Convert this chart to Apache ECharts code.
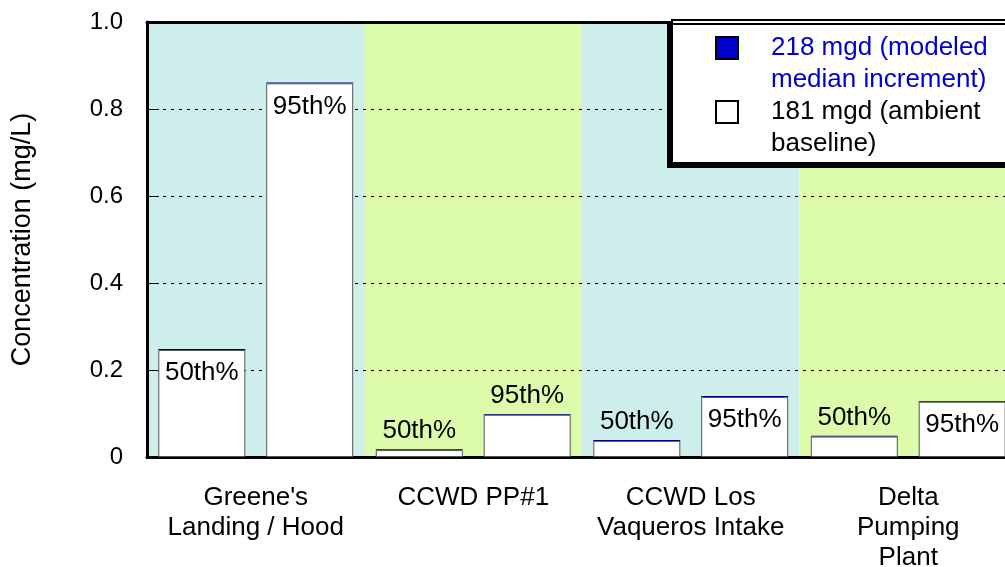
<!DOCTYPE html>
<html>
<head>
<meta charset="utf-8">
<script src="https://cdn.jsdelivr.net/npm/echarts@6/dist/echarts.min.js"></script>
<style>html,body{margin:0;padding:0;background:#fff;}#c{width:1005px;height:567px;}</style>
</head>
<body>
<div id="c"></div>
<script>
var categories = ["Greene's\nLanding / Hood", "CCWD PP#1", "CCWD Los\nVaqueros Intake", "Delta\nPumping\nPlant"];
var baseline50 = [0.246, 0.016, 0.037, 0.047];
var baseline95 = [0.859, 0.097, 0.138, 0.127];
var increment50 = [0.002, 0.002, 0.002, 0.002];
var increment95 = [0.002, 0.002, 0.002, 0.002];
var pctLabels = ["50th%", "95th%"];
var yTickLabels = ["0", "0.2", "0.4", "0.6", "0.8", "1.0"];
var legendNames = ["218 mgd (modeled\nmedian increment)", "181 mgd (ambient\nbaseline)"];

var FONT = '"Liberation Sans", Arial, sans-serif';
var chart = echarts.init(document.getElementById('c'), null, {renderer: 'canvas'});

function baseSeries(vals, label, stack) {
  return {
    type: 'bar', stack: stack, barWidth: 87, barGap: '24%',
    name: legendNames[1],
    itemStyle: {color: '#ffffff', borderColor: '#555', borderWidth: 1},
    data: vals.map(function (v) {
      var inside = v >= 0.12;
      return {value: v, label: {show: true, position: inside ? 'insideTop' : 'top',
        distance: inside ? 10 : 6, formatter: label, color: '#000', fontSize: 26, fontFamily: FONT}};
    }),
    z: 3
  };
}
function incSeries(vals, stack) {
  return {
    type: 'bar', stack: stack, barWidth: 87, barGap: '24%',
    name: legendNames[0],
    itemStyle: {color: '#00007a'},
    data: vals, z: 3
  };
}

var option = {
  animation: false,
  grid: {left: 147, top: 22, width: 870, height: 435, containLabel: false, outerBoundsMode: 'none'},
  xAxis: [{
    type: 'category', data: categories, position: 'bottom', z: 0,
    axisLine: {show: true, lineStyle: {color: '#000', width: 3}},
    axisTick: {show: false},
    axisLabel: {color: '#000', fontSize: 26, fontFamily: FONT, lineHeight: 30, margin: 26, interval: 0},
    splitLine: {show: false},
    splitArea: {show: true, interval: 0, areaStyle: {color: ['#cdeeea', '#dcfcab']}}
  }, {
    type: 'category', data: categories, position: 'top', z: 2,
    axisLine: {show: true, lineStyle: {color: '#000', width: 3}},
    axisTick: {show: false}, axisLabel: {show: false}, splitLine: {show: false}
  }],
  yAxis: {
    type: 'value', min: 0, max: 1, interval: 0.2, z: 1,
    name: 'Concentration (mg/L)', nameLocation: 'middle', nameGap: 111,
    nameTextStyle: {color: '#000', fontSize: 27, fontFamily: FONT},
    axisLine: {show: true, lineStyle: {color: '#000', width: 3}},
    axisTick: {show: true, inside: true, length: 12, lineStyle: {color: '#000', width: 1}},
    axisLabel: {color: '#000', fontSize: 24, fontFamily: FONT, margin: 24,
      formatter: function (v) { return yTickLabels[Math.round(v / 0.2)]; }},
    splitLine: {show: true, lineStyle: {color: '#000', width: 1, type: [3, 5]}}
  },
  series: [
    baseSeries(baseline50, pctLabels[0], 'p50'),
    incSeries(increment50, 'p50'),
    baseSeries(baseline95, pctLabels[1], 'p95'),
    incSeries(increment95, 'p95')
  ],
  graphic: [
    {type: 'rect', z: 100, shape: {x: 672, y: 20, width: 345, height: 143},
      style: {fill: '#fff', stroke: '#000', lineWidth: 2, shadowColor: '#000', shadowOffsetX: -4, shadowOffsetY: 4, shadowBlur: 0}},
    {type: 'rect', z: 101, shape: {x: 716, y: 37, width: 22, height: 22},
      style: {fill: '#0000cc', stroke: '#000', lineWidth: 2}},
    {type: 'rect', z: 101, shape: {x: 716, y: 101, width: 22, height: 22},
      style: {fill: '#fff', stroke: '#000', lineWidth: 2}},
    {type: 'text', z: 101, x: 771, y: 32, style: {text: legendNames[0], fill: '#0000cc', font: '26px ' + FONT, lineHeight: 32}},
    {type: 'text', z: 101, x: 771, y: 96, style: {text: legendNames[1], fill: '#000', font: '26px ' + FONT, lineHeight: 32}}
  ]
};
chart.setOption(option);
</script>
</body>
</html>
